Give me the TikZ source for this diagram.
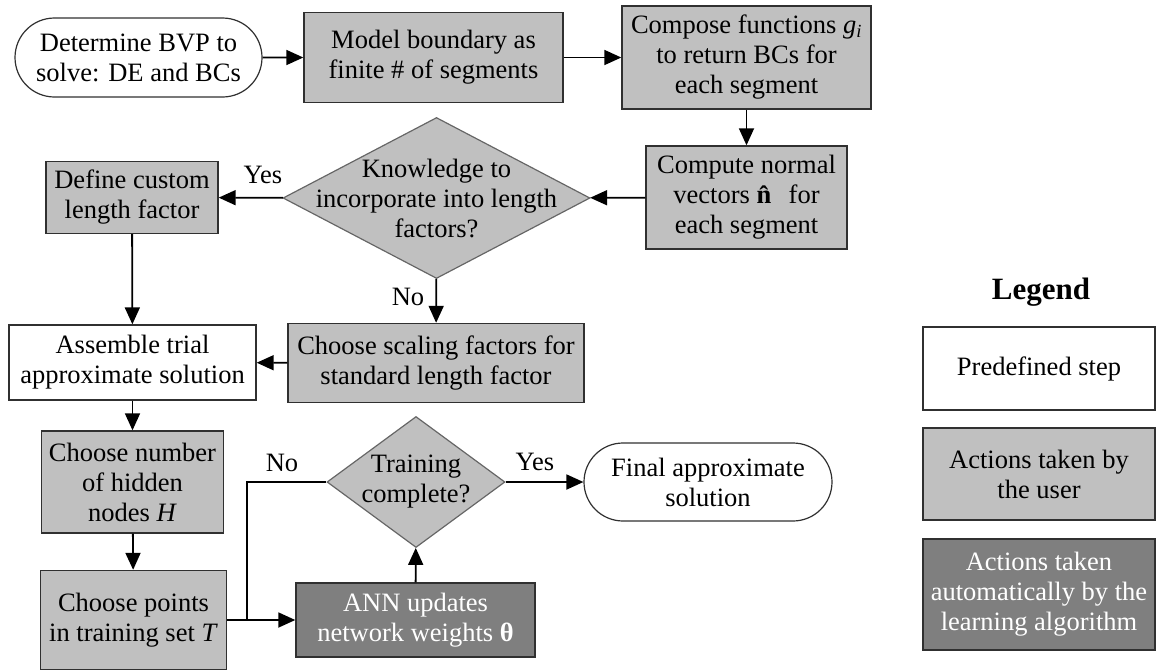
\documentclass[tikz,border=0pt]{standalone}
\usepackage{amsmath}
\usepackage{fontspec}
\setmainfont{Liberation Serif}
\usetikzlibrary{shapes.misc,shapes.geometric,arrows.meta}
\definecolor{lgray}{HTML}{C0C0C0}
\definecolor{dgray}{HTML}{7F7F7F}
\definecolor{edge}{HTML}{303030}
\tikzset{
  every node/.style={font=\fontsize{26.5}{30}\selectfont, align=center, inner sep=0pt},
  base/.style={draw=edge, line width=1.4pt},
  predef/.style={base, rectangle, fill=white},
  user/.style={base, rectangle, fill=lgray},
  auto/.style={base, rectangle, fill=dgray, text=white},
  term/.style={draw=edge, line width=1.2pt, rounded rectangle, fill=white},
  dec/.style={draw=dgray!80!black, line width=1.2pt, diamond, fill=lgray},
  conn/.style={draw=black, line width=1.8pt, -{Triangle[length=17pt,width=15pt]}},
  lab/.style={font=\fontsize{26.5}{30}\selectfont}
}
\begin{document}
\begin{tikzpicture}[x=1pt,y=-1pt]
\useasboundingbox (0,0) rectangle (1157,670);
% nodes
\node[term, minimum width=247pt, minimum height=79pt] (bvp) at (138.5,57.5) {Determine BVP to\\solve: DE and BCs};
\node[user, minimum width=259pt, minimum height=90pt] (model) at (433.5,57.5) {Model boundary as\\finite \# of segments};
\node[user, minimum width=249pt, minimum height=103pt] (compose) at (746.5,57.5) {Compose functions \textit{g}\textsubscript{\textit{i}}\\to return BCs for\\each segment};
\node[user, minimum width=201pt, minimum height=103pt] (compute) at (746.5,197.5) {Compute normal\\vectors \textbf{n̂}\enspace for\\each segment};
\node[dec, minimum width=307pt, minimum height=161pt] (know) at (436.5,198) {};
\node at (know) {Knowledge to\\incorporate into length\\factors?};
\node[user, minimum width=172pt, minimum height=72pt] (define) at (132,197.5) {Define custom\\length factor};
\node[predef, minimum width=247pt, minimum height=75pt] (assemble) at (132.5,362.5) {Assemble trial\\approximate solution};
\node[user, minimum width=296pt, minimum height=79pt] (scaling) at (436,363) {Choose scaling factors for\\standard length factor};
\node[user, minimum width=182pt, minimum height=102pt] (number) at (132.5,482) {Choose number\\of hidden\\nodes \textit{H}};
\node[user, minimum width=186pt, minimum height=99pt] (points) at (133.5,620) {Choose points\\in training set \textit{T}};
\node[dec, minimum width=178pt, minimum height=131pt] (train) at (416,482) {};
\node at (train) {Training\\complete?};
\node[auto, minimum width=239pt, minimum height=74pt] (ann) at (415.5,620) {ANN updates\\network weights \textbf{θ}};
\node[term, minimum width=248pt, minimum height=78pt] (final) at (708,482) {Final approximate\\solution};
% legend
\node[font=\fontsize{31}{34}\selectfont\bfseries] (legtitle) at (1041,292) {Legend};
\node[predef, minimum width=232pt, minimum height=83pt] (leg1) at (1039,368.5) {Predefined step};
\node[user, minimum width=232pt, minimum height=92pt] (leg2) at (1039,474) {Actions taken by\\the user};
\node[auto, minimum width=232pt, minimum height=111pt] (leg3) at (1039,594.5) {Actions taken\\automatically by the\\learning algorithm};
% connectors
\draw[conn] (bvp) -- (model);
\draw[conn] (model) -- (compose);
\draw[conn] (compose) -- (compute);
\draw[conn] (compute) -- (know);
\draw[conn] (know) -- (define);
\draw[conn] (know) -- (scaling);
\draw[conn] (define) -- (assemble);
\draw[conn] (scaling) -- (assemble);
\draw[conn] (assemble) -- (number);
\draw[conn] (number) -- (points);
\draw[conn] (points) -- (ann);
\coordinate (br) at (247,620);
\draw[line width=1.4pt] (br) |- (train.west);
\draw[conn] (ann) -- (train);
\draw[conn] (train) -- (final);
% labels
\node[lab] (yes1) at (263,175) {Yes};
\node[lab] (no1) at (408,297) {No};
\node[lab] (no2) at (282,463) {No};
\node[lab] (yes2) at (535,462) {Yes};
\end{tikzpicture}
\end{document}
